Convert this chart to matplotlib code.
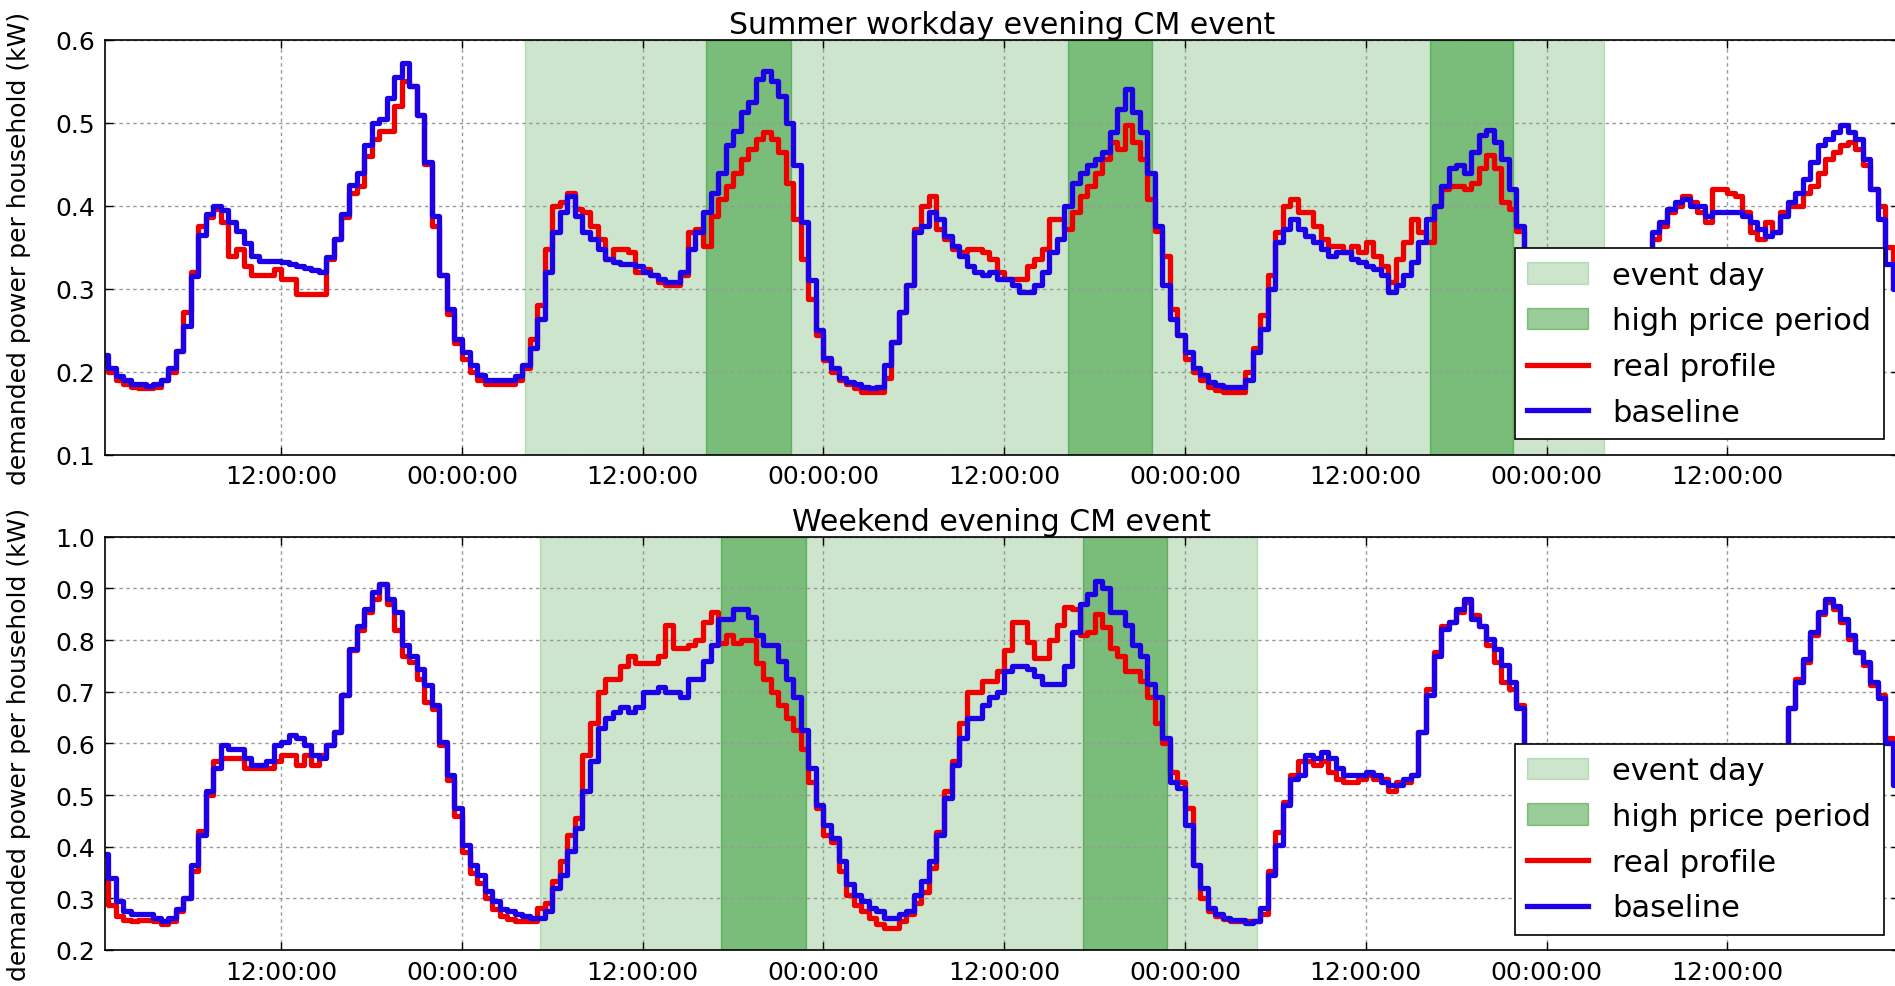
import numpy as np
import matplotlib
matplotlib.use('Agg')
import matplotlib.pyplot as plt

plt.rcParams['font.family'] = 'DejaVu Sans'
plt.rcParams['font.size'] = 18

# half-hour time stamps (hours since the first midnight)
hours = np.arange(240) * 0.5

# x ticks every 12 hours
tick_hours = [12, 24, 36, 48, 60, 72, 84, 96, 108]
tick_labels = ['12:00:00', '00:00:00'] * 4 + ['12:00:00']

# summer workday panel
summer_real = [
    0.21, 0.2, 0.19, 0.185, 0.181, 0.18, 0.18, 0.181, 0.19, 0.2, 0.225, 0.272,
    0.32, 0.376, 0.386, 0.396, 0.38, 0.34, 0.348, 0.328, 0.316, 0.316, 0.316, 0.324,
    0.312, 0.312, 0.294, 0.294, 0.294, 0.294, 0.336, 0.36, 0.386, 0.416, 0.424, 0.46,
    0.48, 0.49, 0.49, 0.52, 0.55, 0.545, 0.51, 0.45, 0.376, 0.316, 0.27, 0.235,
    0.215, 0.2, 0.19, 0.185, 0.185, 0.185, 0.185, 0.19, 0.205, 0.24, 0.28, 0.348,
    0.40, 0.404, 0.416, 0.396, 0.392, 0.376, 0.36, 0.336, 0.348, 0.348, 0.344, 0.32,
    0.324, 0.316, 0.308, 0.304, 0.304, 0.316, 0.368, 0.372, 0.352, 0.388, 0.408, 0.424,
    0.44, 0.457, 0.469, 0.48, 0.489, 0.48, 0.465, 0.428, 0.384, 0.336, 0.288, 0.244,
    0.214, 0.2, 0.19, 0.185, 0.18, 0.176, 0.176, 0.176, 0.192, 0.236, 0.272, 0.304,
    0.372, 0.40, 0.412, 0.372, 0.36, 0.348, 0.344, 0.348, 0.348, 0.344, 0.336, 0.32,
    0.312, 0.312, 0.312, 0.328, 0.336, 0.348, 0.384, 0.384, 0.372, 0.392, 0.412, 0.424,
    0.44, 0.457, 0.477, 0.469, 0.497, 0.477, 0.457, 0.408, 0.37, 0.34, 0.276, 0.244,
    0.215, 0.2, 0.19, 0.182, 0.178, 0.176, 0.176, 0.176, 0.2, 0.228, 0.268, 0.316,
    0.368, 0.40, 0.408, 0.392, 0.392, 0.376, 0.36, 0.352, 0.352, 0.344, 0.352, 0.344,
    0.356, 0.34, 0.328, 0.308, 0.336, 0.356, 0.384, 0.368, 0.356, 0.40, 0.42, 0.424,
    0.424, 0.42, 0.428, 0.445, 0.461, 0.445, 0.404, 0.396, 0.37, 0.33, 0.29, 0.255,
    0.23, 0.21, 0.195, 0.188, 0.182, 0.18, 0.178, 0.18, 0.19, 0.21, 0.245, 0.29,
    0.325, 0.34, 0.36, 0.376, 0.392, 0.40, 0.412, 0.404, 0.392, 0.38, 0.42, 0.42,
    0.416, 0.412, 0.392, 0.368, 0.36, 0.38, 0.368, 0.392, 0.40, 0.40, 0.416, 0.424,
    0.44, 0.457, 0.465, 0.473, 0.477, 0.469, 0.449, 0.42, 0.40, 0.35, 0.31, 0.29,
]
summer_base = [
    0.22, 0.205, 0.195, 0.19, 0.185, 0.185, 0.183, 0.185, 0.19, 0.205, 0.225, 0.255,
    0.315, 0.365, 0.39, 0.40, 0.395, 0.38, 0.37, 0.355, 0.34, 0.333, 0.333, 0.334,
    0.332, 0.33, 0.327, 0.325, 0.322, 0.32, 0.338, 0.36, 0.39, 0.425, 0.44, 0.473,
    0.50, 0.505, 0.53, 0.555, 0.572, 0.545, 0.51, 0.453, 0.388, 0.316, 0.276, 0.24,
    0.224, 0.208, 0.196, 0.19, 0.19, 0.19, 0.19, 0.195, 0.208, 0.228, 0.264, 0.32,
    0.368, 0.392, 0.412, 0.388, 0.368, 0.36, 0.348, 0.336, 0.332, 0.33, 0.33, 0.328,
    0.32, 0.316, 0.312, 0.308, 0.308, 0.32, 0.348, 0.368, 0.392, 0.416, 0.44, 0.473,
    0.49, 0.513, 0.525, 0.553, 0.563, 0.55, 0.533, 0.50, 0.449, 0.38, 0.31, 0.25,
    0.216, 0.204, 0.192, 0.188, 0.185, 0.182, 0.18, 0.181, 0.208, 0.236, 0.272, 0.304,
    0.368, 0.376, 0.392, 0.384, 0.364, 0.352, 0.34, 0.328, 0.32, 0.316, 0.32, 0.312,
    0.312, 0.304, 0.296, 0.296, 0.304, 0.32, 0.344, 0.36, 0.40, 0.428, 0.44, 0.449,
    0.457, 0.465, 0.489, 0.517, 0.541, 0.513, 0.489, 0.44, 0.376, 0.304, 0.264, 0.244,
    0.224, 0.204, 0.196, 0.188, 0.184, 0.182, 0.182, 0.182, 0.19, 0.224, 0.252, 0.30,
    0.356, 0.372, 0.384, 0.372, 0.364, 0.356, 0.348, 0.34, 0.344, 0.344, 0.336, 0.332,
    0.328, 0.324, 0.316, 0.296, 0.304, 0.316, 0.332, 0.356, 0.384, 0.40, 0.424, 0.445,
    0.449, 0.44, 0.465, 0.485, 0.491, 0.477, 0.457, 0.42, 0.376, 0.33, 0.29, 0.26,
    0.235, 0.215, 0.2, 0.192, 0.186, 0.183, 0.182, 0.183, 0.19, 0.21, 0.24, 0.28,
    0.32, 0.34, 0.368, 0.38, 0.396, 0.404, 0.408, 0.40, 0.40, 0.388, 0.392, 0.392,
    0.392, 0.392, 0.388, 0.38, 0.372, 0.364, 0.368, 0.388, 0.404, 0.416, 0.432, 0.453,
    0.473, 0.48, 0.489, 0.497, 0.489, 0.48, 0.457, 0.42, 0.384, 0.33, 0.30, 0.29,
]
summer_event = (28.2, 99.8)
summer_peaks = [(40.2, 45.85), (64.2, 69.8), (88.25, 93.75)]

# weekend panel
weekend_real = [
    0.333, 0.288, 0.265, 0.258, 0.256, 0.258, 0.258, 0.256, 0.25, 0.256, 0.275, 0.30,
    0.352, 0.43, 0.50, 0.565, 0.571, 0.571, 0.571, 0.552, 0.552, 0.552, 0.552, 0.565,
    0.577, 0.577, 0.558, 0.577, 0.558, 0.577, 0.597, 0.622, 0.693, 0.78, 0.82, 0.855,
    0.88, 0.909, 0.87, 0.82, 0.77, 0.757, 0.725, 0.68, 0.667, 0.597, 0.53, 0.46,
    0.39, 0.35, 0.33, 0.30, 0.28, 0.265, 0.26, 0.256, 0.256, 0.256, 0.282, 0.29,
    0.333, 0.372, 0.423, 0.456, 0.577, 0.64, 0.70, 0.725, 0.725, 0.75, 0.77, 0.755,
    0.755, 0.755, 0.77, 0.83, 0.785, 0.785, 0.79, 0.80, 0.835, 0.855, 0.795, 0.81,
    0.795, 0.80, 0.80, 0.755, 0.725, 0.70, 0.675, 0.65, 0.625, 0.59, 0.526, 0.475,
    0.423, 0.41, 0.352, 0.307, 0.288, 0.275, 0.262, 0.25, 0.243, 0.243, 0.256, 0.27,
    0.29, 0.313, 0.359, 0.429, 0.507, 0.565, 0.64, 0.70, 0.70, 0.72, 0.72, 0.74,
    0.78, 0.835, 0.835, 0.797, 0.765, 0.765, 0.80, 0.83, 0.865, 0.86, 0.81, 0.815,
    0.85, 0.825, 0.785, 0.77, 0.74, 0.74, 0.72, 0.69, 0.64, 0.60, 0.545, 0.526,
    0.475, 0.365, 0.30, 0.275, 0.265, 0.26, 0.256, 0.256, 0.256, 0.256, 0.269, 0.352,
    0.429, 0.487, 0.539, 0.565, 0.565, 0.558, 0.565, 0.545, 0.532, 0.526, 0.526, 0.532,
    0.539, 0.532, 0.532, 0.507, 0.526, 0.526, 0.539, 0.622, 0.706, 0.777, 0.828, 0.835,
    0.854, 0.873, 0.848, 0.828, 0.79, 0.757, 0.719, 0.706, 0.674, 0.49, 0.44, 0.39,
    0.35, 0.32, 0.30, 0.29, 0.28, 0.27, 0.265, 0.262, 0.262, 0.27, 0.285, 0.31,
    0.36, 0.41, 0.45, 0.48, 0.49, 0.49, 0.48, 0.47, 0.46, 0.46, 0.455, 0.45,
    0.45, 0.455, 0.46, 0.47, 0.49, 0.51, 0.54, 0.57, 0.668, 0.725, 0.757, 0.809,
    0.85, 0.873, 0.86, 0.835, 0.803, 0.777, 0.751, 0.713, 0.693, 0.61, 0.603, 0.526,
]
weekend_base = [
    0.385, 0.34, 0.295, 0.275, 0.27, 0.27, 0.27, 0.262, 0.256, 0.262, 0.28, 0.30,
    0.365, 0.423, 0.507, 0.552, 0.597, 0.59, 0.59, 0.571, 0.558, 0.558, 0.565, 0.597,
    0.603, 0.616, 0.61, 0.597, 0.577, 0.571, 0.597, 0.622, 0.693, 0.783, 0.828, 0.86,
    0.893, 0.909, 0.88, 0.854, 0.79, 0.77, 0.745, 0.713, 0.674, 0.603, 0.539, 0.475,
    0.404, 0.365, 0.346, 0.314, 0.295, 0.28, 0.275, 0.269, 0.266, 0.262, 0.262, 0.275,
    0.32, 0.346, 0.391, 0.436, 0.507, 0.565, 0.629, 0.65, 0.66, 0.67, 0.66, 0.67,
    0.70, 0.70, 0.71, 0.70, 0.70, 0.69, 0.725, 0.725, 0.76, 0.79, 0.84, 0.84,
    0.86, 0.86, 0.845, 0.81, 0.79, 0.79, 0.76, 0.725, 0.69, 0.625, 0.552, 0.481,
    0.442, 0.417, 0.372, 0.327, 0.307, 0.295, 0.282, 0.275, 0.262, 0.262, 0.269, 0.275,
    0.307, 0.333, 0.372, 0.423, 0.494, 0.558, 0.61, 0.65, 0.65, 0.675, 0.69, 0.70,
    0.74, 0.75, 0.75, 0.745, 0.73, 0.715, 0.715, 0.715, 0.75, 0.815, 0.87, 0.89,
    0.915, 0.90, 0.855, 0.855, 0.83, 0.79, 0.77, 0.715, 0.69, 0.61, 0.526, 0.513,
    0.442, 0.365, 0.32, 0.282, 0.269, 0.262, 0.259, 0.259, 0.253, 0.256, 0.282, 0.346,
    0.404, 0.481, 0.532, 0.539, 0.577, 0.571, 0.584, 0.571, 0.552, 0.539, 0.539, 0.539,
    0.545, 0.539, 0.526, 0.52, 0.52, 0.532, 0.539, 0.622, 0.693, 0.77, 0.822, 0.835,
    0.86, 0.88, 0.841, 0.828, 0.803, 0.783, 0.751, 0.719, 0.668, 0.50, 0.45, 0.40,
    0.36, 0.33, 0.31, 0.30, 0.29, 0.28, 0.275, 0.27, 0.27, 0.275, 0.29, 0.32,
    0.37, 0.42, 0.46, 0.49, 0.50, 0.50, 0.49, 0.48, 0.47, 0.47, 0.46, 0.46,
    0.46, 0.46, 0.47, 0.48, 0.50, 0.52, 0.55, 0.58, 0.668, 0.719, 0.764, 0.815,
    0.854, 0.88, 0.867, 0.841, 0.809, 0.777, 0.757, 0.719, 0.687, 0.60, 0.52, 0.50,
]
weekend_event = (29.2, 76.8)
weekend_peaks = [(41.2, 46.85), (65.2, 70.8)]


def draw_panel(ax, real, base, event, peaks, ylim, title):
    ax.axvspan(event[0], event[1], color='green', alpha=0.2, label='event day')
    for i, (start, end) in enumerate(peaks):
        ax.axvspan(start, end, color='green', alpha=0.4,
                   label='high price period' if i == 0 else None)
    ax.plot(hours, real, color='#ee0000', lw=3.8, drawstyle='steps-post',
            label='real profile')
    ax.plot(hours, base, color='#1c00e8', lw=3.8, drawstyle='steps-post',
            label='baseline')

    ax.set_xlim(0.3, 119.4)
    ax.set_ylim(*ylim)
    ax.set_xticks(tick_hours)
    ax.set_xticklabels(tick_labels)
    ax.tick_params(direction='in', top=True, right=True, length=6, width=1)
    ax.tick_params(axis='x', pad=7)
    ax.tick_params(axis='y', pad=7)
    ax.grid(True, color='#999999', linestyle=(0, (2.5, 2.5)), linewidth=1)
    for sp in ax.spines.values():
        sp.set_linewidth(1.2)

    ax.set_title(title, fontsize=21.6, pad=5)
    ax.set_ylabel('demanded power per household (kW)', fontsize=18)
    ax.yaxis.set_label_coords(-0.041, 0.5)

    leg = ax.legend(loc='lower right', fontsize=22, fancybox=False,
                    edgecolor='black', framealpha=1, borderpad=0.4,
                    labelspacing=0.55, handlelength=2.0, handletextpad=0.8,
                    borderaxespad=0.5)
    leg.get_frame().set_linewidth(1.2)


fig = plt.figure(figsize=(18.95, 9.87), dpi=100)
ax1 = fig.add_axes([0.0554, 0.5384, 0.9467, 0.4201])
ax2 = fig.add_axes([0.0554, 0.0365, 0.9467, 0.4186])

draw_panel(ax1, summer_real, summer_base, summer_event, summer_peaks,
           (0.1, 0.6), 'Summer workday evening CM event')
draw_panel(ax2, weekend_real, weekend_base, weekend_event, weekend_peaks,
           (0.2, 1.0), 'Weekend evening CM event')

fig.savefig('out.png', dpi=100)
